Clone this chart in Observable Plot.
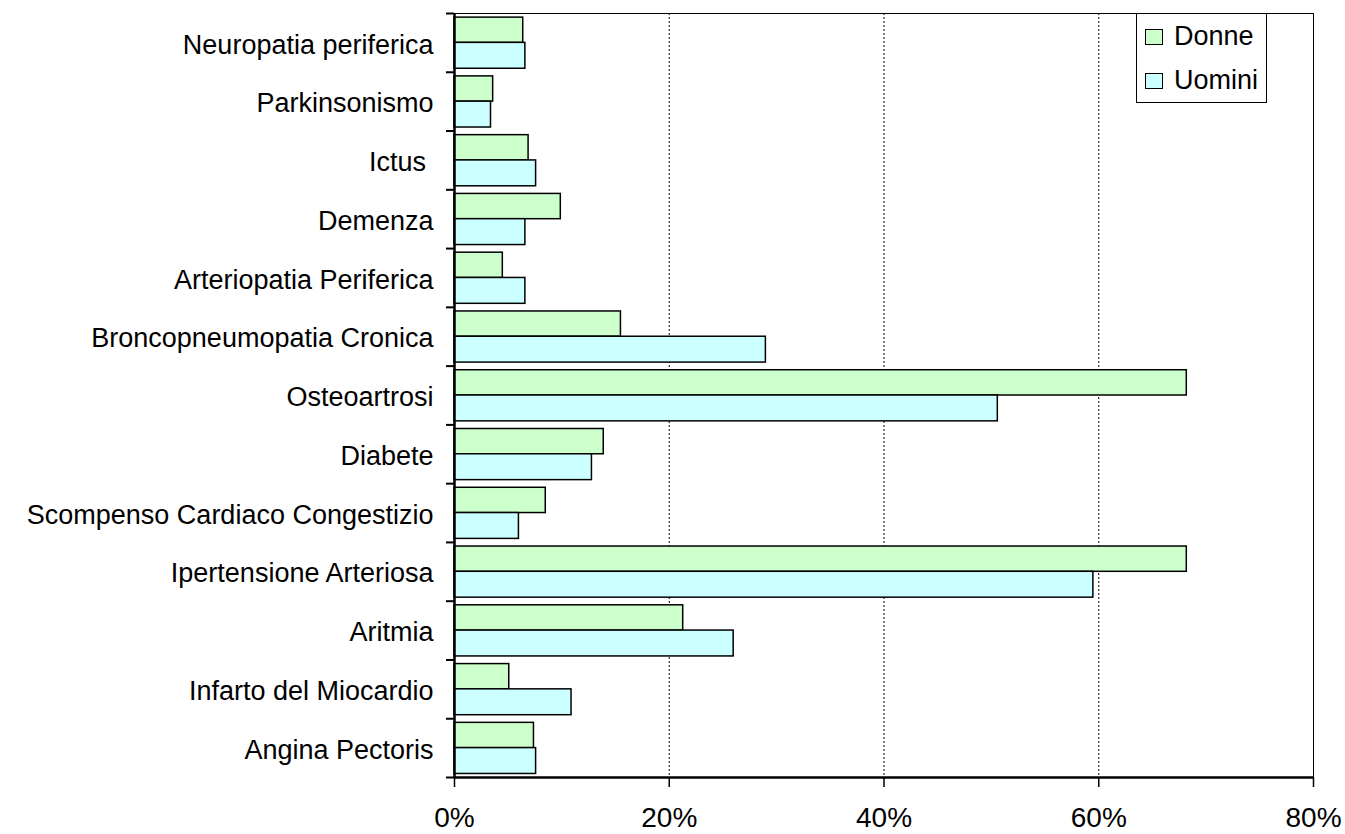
<!DOCTYPE html>
<html>
<head>
<meta charset="utf-8">
<script src="https://cdn.jsdelivr.net/npm/d3@7"></script>
<script src="https://cdn.jsdelivr.net/npm/@observablehq/plot@0.6"></script>
<style>
  html, body { margin: 0; padding: 0; background: #fff; }
  #wrap { position: relative; width: 1345px; height: 834px; overflow: hidden; }
  #legend { position: absolute; left: 1136px; top: 13px; width: 129px; height: 88px;
    border: 1px solid #000; background: #fff; font-family: "Liberation Sans", Arial, sans-serif; font-size: 27px; }
  .item { position: absolute; left: 8px; display: flex; align-items: center; }
  .sw { width: 16px; height: 14px; border: 1px solid #000; margin-right: 11px; }
</style>
</head>
<body>
<div id="wrap"></div>
<script>
const categories = [
  "Neuropatia periferica", "Parkinsonismo", "Ictus ", "Demenza", "Arteriopatia Periferica",
  "Broncopneumopatia Cronica", "Osteoartrosi", "Diabete", "Scompenso Cardiaco Congestizio",
  "Ipertensione Arteriosa", "Aritmia", "Infarto del Miocardio", "Angina Pectoris"
];
const donne  = [6.4, 3.6, 6.9, 9.9, 4.5, 15.5, 68.2, 13.9, 8.5, 68.2, 21.3, 5.1, 7.4];
const uomini = [6.6, 3.4, 7.6, 6.6, 6.6, 29.0, 50.6, 12.8, 6.0, 59.5, 26.0, 10.9, 7.6];
const seriesNames = ["Donne", "Uomini"];
const seriesColors = ["#ccffcc", "#ccffff"];
const xTicks = [0, 20, 40, 60, 80];

const rows = categories.flatMap((c, i) => [
  {cat: c, i, series: "Donne", value: donne[i], y1: i + 0.07, y2: i + 0.5},
  {cat: c, i, series: "Uomini", value: uomini[i], y1: i + 0.5, y2: i + 0.94}
]);

const font = "'Liberation Sans', Arial, sans-serif";

const chart = Plot.plot({
  width: 1345,
  height: 834,
  marginLeft: 454,
  marginRight: 32,
  marginTop: 13,
  marginBottom: 57,
  style: {background: "#fff", overflow: "visible", fontFamily: font},
  x: {domain: [0, 80]},
  y: {domain: [0, categories.length], reverse: true},
  color: {domain: seriesNames, range: seriesColors},
  marks: [
    Plot.ruleX(xTicks.slice(1, -1), {stroke: "#000", strokeWidth: 1, strokeDasharray: "2,2"}),
    Plot.frame({stroke: "#000", strokeWidth: 1}),
    Plot.rectX(rows, {x1: 0, x2: "value", y1: "y1", y2: "y2", fill: "series", stroke: "#000", strokeWidth: 1.5}),
    Plot.ruleX([0], {stroke: "#000", strokeWidth: 2.5}),
    Plot.ruleY([categories.length], {stroke: "#000", strokeWidth: 2.5}),
    Plot.axisY(d3.range(categories.length + 1), {tickSize: 8, tickFormat: () => "", stroke: "#000", strokeWidth: 2}),
    Plot.axisY(d3.range(categories.length).map(i => i + 0.5), {
      tickSize: 0, tickPadding: 21, tickFormat: d => categories[Math.floor(d)],
      fontSize: 27, fontFamily: font, fill: "#000", label: null, dy: 2
    }),
    Plot.axisX(xTicks, {
      tickSize: 10, tickPadding: 20, tickFormat: d => d + "%", stroke: "#000", strokeWidth: 1.5,
      fontSize: 28, fontFamily: font, fill: "#000", label: null
    })
  ]
});

const wrap = document.getElementById("wrap");
wrap.appendChild(chart);

const legend = document.createElement("div");
legend.id = "legend";
seriesNames.forEach((name, k) => {
  const item = document.createElement("div");
  item.className = "item";
  item.style.top = (k === 0 ? 7 : 51) + "px";
  const sw = document.createElement("div");
  sw.className = "sw";
  sw.style.background = seriesColors[k];
  const t = document.createElement("span");
  t.textContent = name;
  item.appendChild(sw);
  item.appendChild(t);
  legend.appendChild(item);
});
wrap.appendChild(legend);
</script>
</body>
</html>
